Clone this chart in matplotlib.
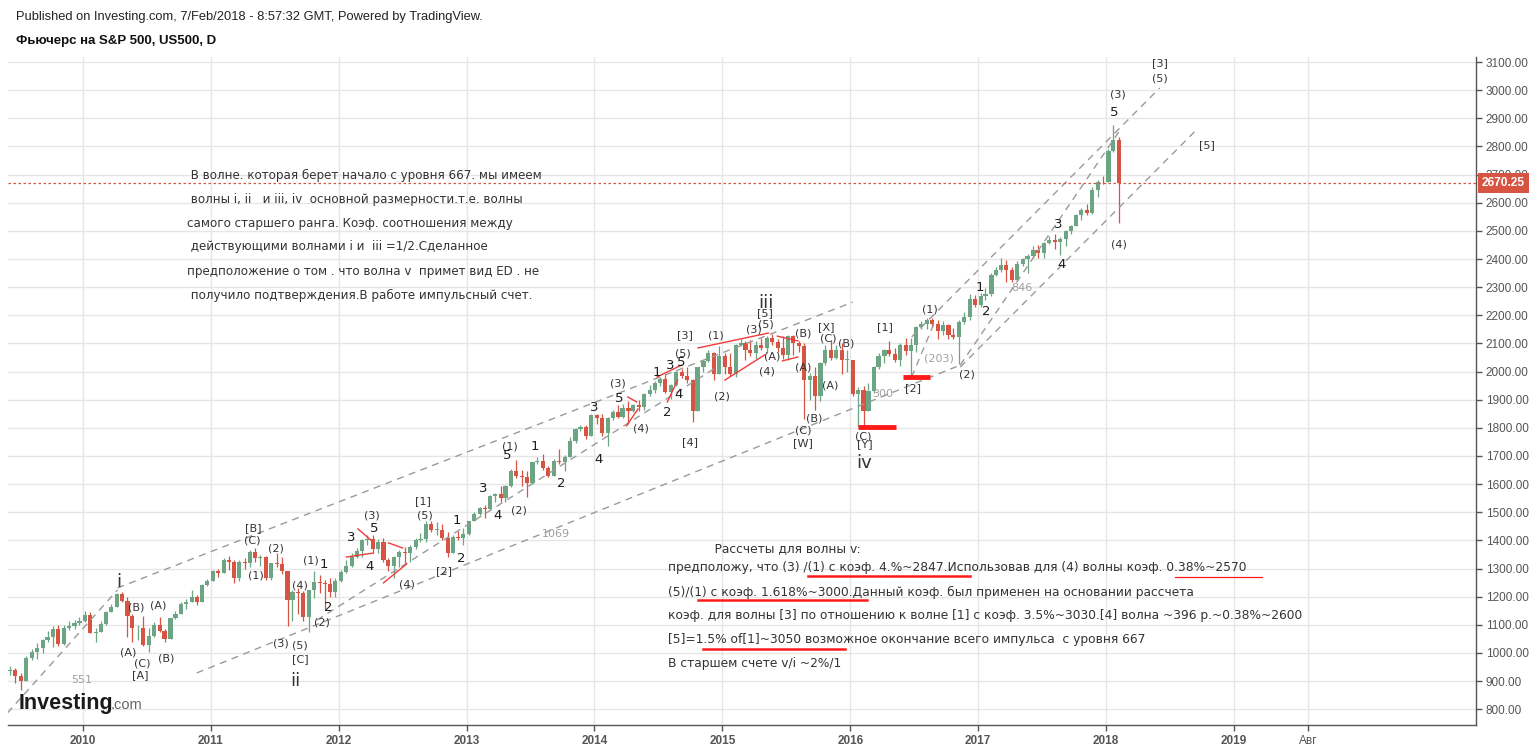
import matplotlib
matplotlib.use('Agg')
import matplotlib.pyplot as plt
import matplotlib.transforms as mtransforms
from matplotlib.lines import Line2D
import pandas as pd

W, H = 1533, 749
UP, DOWN = '#6ba583', '#d75442'

# half-month candles, the first one starts on 2009-06-01
first_open = 935
closes = [
    # 2009 Jun..Dec
    940, 918, 900, 982, 1002, 1018, 1045, 1055, 1085, 1032, 1090, 1095, 1105, 1112,
    # 2010
    1135, 1072, 1075, 1102, 1147, 1165, 1210, 1185, 1132, 1087, 1090, 1028,
    1062, 1100, 1078, 1048, 1123, 1140, 1175, 1182, 1198, 1180, 1240, 1255,
    # 2011
    1291, 1284, 1332, 1325, 1268, 1322, 1318, 1360, 1336, 1342, 1265, 1318,
    1315, 1290, 1190, 1215, 1214, 1128, 1222, 1252, 1250, 1245, 1218, 1255,
    # 2012
    1288, 1310, 1342, 1363, 1400, 1405, 1368, 1395, 1330, 1308, 1340, 1360,
    1355, 1377, 1403, 1404, 1460, 1438, 1438, 1410, 1355, 1412, 1410, 1424,
    # 2013
    1468, 1495, 1515, 1512, 1558, 1565, 1550, 1595, 1648, 1628, 1624, 1604,
    1678, 1683, 1658, 1630, 1683, 1678, 1698, 1752, 1796, 1804, 1772, 1845,
    # 2014
    1836, 1780, 1835, 1856, 1838, 1870, 1860, 1880, 1875, 1920, 1935, 1958,
    1975, 1928, 1952, 2000, 1983, 1970, 1860, 2015, 2038, 2065, 1990, 2055,
    # 2015
    2015, 1992, 2095, 2102, 2078, 2065, 2095, 2083, 2120, 2105, 2085, 2060,
    2125, 2100, 2090, 1970, 1985, 1915, 2030, 2075, 2048, 2078, 2040, 2040,
    # 2016
    1920, 1935, 1860, 1930, 2015, 2055, 2075, 2062, 2040, 2093, 2072, 2095,
    2158, 2170, 2182, 2170, 2145, 2165, 2130, 2122, 2175, 2195, 2258, 2236,
    # 2017
    2270, 2275, 2345, 2362, 2380, 2360, 2325, 2382, 2400, 2410, 2432, 2420,
    2457, 2468, 2462, 2470, 2498, 2518, 2555, 2573, 2563, 2645, 2675, 2672,
    # 2018 Jan..Feb
    2785, 2822, 2670.25,
]
highs = [
    955, 945, 930, 990, 1015, 1035, 1050, 1078, 1095, 1100, 1100, 1112, 1118, 1127,
    1150, 1145, 1090, 1112, 1150, 1175, 1214, 1217, 1200, 1140, 1100, 1130,
    1090, 1110, 1128, 1085, 1126, 1150, 1182, 1193, 1225, 1205, 1245, 1262,
    1294, 1300, 1336, 1345, 1330, 1330, 1338, 1366, 1372, 1348, 1345, 1320,
    1356, 1340, 1292, 1222, 1230, 1220, 1225, 1292, 1278, 1260, 1265, 1265,
    1295, 1330, 1355, 1372, 1405, 1418, 1420, 1405, 1410, 1338, 1345, 1365,
    1375, 1385, 1408, 1425, 1468, 1470, 1465, 1460, 1430, 1418, 1435, 1445,
    1470, 1500, 1520, 1525, 1560, 1570, 1595, 1598, 1655, 1685, 1650, 1645,
    1680, 1698, 1708, 1665, 1690, 1725, 1705, 1768, 1800, 1810, 1810, 1850,
    1848, 1850, 1838, 1865, 1880, 1885, 1895, 1885, 1900, 1925, 1952, 1965,
    1980, 1990, 1955, 2005, 2010, 2015, 1972, 2018, 2042, 2075, 2070, 2090,
    2065, 2065, 2098, 2115, 2110, 2112, 2110, 2120, 2125, 2135, 2115, 2125,
    2130, 2130, 2110, 2102, 1995, 2018, 2035, 2095, 2112, 2095, 2102, 2075,
    2040, 1945, 1950, 1960, 2020, 2065, 2080, 2108, 2085, 2100, 2118, 2118,
    2162, 2178, 2190, 2190, 2185, 2178, 2170, 2155, 2183, 2212, 2275, 2272,
    2280, 2298, 2350, 2370, 2402, 2395, 2370, 2392, 2405, 2418, 2448, 2450,
    2462, 2482, 2490, 2480, 2502, 2520, 2560, 2580, 2595, 2655, 2680, 2695,
    2790, 2878, 2835,
]
lows = [
    920, 895, 870, 900, 975, 980, 1000, 1040, 1020, 1025, 1030, 1080, 1085, 1098,
    1110, 1070, 1040, 1075, 1100, 1145, 1165, 1180, 1056, 1040, 1045, 1025,
    1003, 1055, 1075, 1040, 1050, 1120, 1140, 1158, 1185, 1172, 1185, 1238,
    1255, 1270, 1285, 1295, 1250, 1255, 1300, 1305, 1325, 1310, 1258, 1260,
    1305, 1282, 1095, 1115, 1140, 1115, 1075, 1195, 1212, 1155, 1200, 1200,
    1252, 1285, 1305, 1338, 1340, 1385, 1355, 1355, 1325, 1290, 1265, 1305,
    1320, 1325, 1370, 1395, 1395, 1430, 1420, 1402, 1340, 1355, 1400, 1385,
    1420, 1470, 1490, 1480, 1510, 1538, 1535, 1536, 1590, 1622, 1595, 1555,
    1600, 1672, 1650, 1625, 1628, 1670, 1645, 1695, 1745, 1790, 1762, 1772,
    1815, 1770, 1735, 1828, 1835, 1835, 1812, 1855, 1860, 1862, 1915, 1925,
    1950, 1925, 1902, 1950, 1978, 1960, 1820, 1860, 2000, 2035, 1970, 1990,
    1990, 1985, 1980, 2090, 2040, 2055, 2045, 2075, 2065, 2095, 2070, 2045,
    2040, 2060, 2070, 1831, 1900, 1865, 1895, 2025, 2040, 2045, 1990, 2000,
    1915, 1804, 1808, 1860, 1925, 2010, 2030, 2055, 2035, 2020, 2060, 1985,
    2070, 2150, 2150, 2158, 2115, 2130, 2115, 2115, 2028, 2170, 2185, 2230,
    2230, 2255, 2270, 2340, 2355, 2320, 2320, 2322, 2375, 2350, 2405, 2405,
    2405, 2455, 2435, 2415, 2445, 2488, 2518, 2540, 2555, 2560, 2620, 2665,
    2680, 2780, 2529,
]
last_price = 2670.25

year_ticks = list(range(2010, 2020))
aug_tick = 2019.581

# wave labels: (text, decimal year, price)
small_labels = [
    ('(B)', 2010.42, 1163), ('(A)', 2010.59, 1167), ('(A)', 2010.35, 1000),
    ('(C)', 2010.46, 961), ('[A]', 2010.45, 922), ('(B)', 2010.65, 979),
    ('[B]', 2011.33, 1444), ('(C)', 2011.32, 1398), ('(2)', 2011.51, 1373),
    ('(1)', 2011.35, 1277), ('(1)', 2011.78, 1330), ('(4)', 2011.70, 1238),
    ('(2)', 2011.87, 1107), ('(3)', 2011.55, 1035), ('(5)', 2011.70, 1025),
    ('[C]', 2011.70, 979), ('(3)', 2012.26, 1490), ('(4)', 2012.53, 1245),
    ('[1]', 2012.66, 1540), ('(5)', 2012.67, 1490), ('[2]', 2012.82, 1291),
    ('(2)', 2013.41, 1505), ('(1)', 2013.34, 1735), ('(3)', 2014.18, 1956),
    ('(4)', 2014.36, 1796), ('[4]', 2014.75, 1750), ('(5)', 2014.69, 2066),
    ('[3]', 2014.71, 2130), ('(1)', 2014.95, 2130), ('(2)', 2015.00, 1913),
    ('(3)', 2015.25, 2148), ('(5)', 2015.34, 2166), ('[5]', 2015.33, 2208),
    ('(A)', 2015.39, 2055), ('(4)', 2015.35, 2002), ('(B)', 2015.63, 2137),
    ('(A)', 2015.63, 2013), ('(B)', 2015.72, 1835), ('(C)', 2015.63, 1792),
    ('[W]', 2015.63, 1746), ('[X]', 2015.81, 2158), ('(C)', 2015.83, 2116),
    ('(B)', 2015.97, 2101), ('(A)', 2015.84, 1952), ('(C)', 2016.10, 1771),
    ('[Y]', 2016.11, 1743), ('[1]', 2016.27, 2158), ('(1)', 2016.62, 2219),
    ('[2]', 2016.49, 1942), ('(2)', 2016.91, 1988), ('(4)', 2018.10, 2453),
    ('(3)', 2018.09, 2986), ('(5)', 2018.42, 3043), ('[3]', 2018.42, 3096),
    ('[5]', 2018.79, 2805),
]
digit_labels = [
    ('1', 2011.88, 1313), ('2', 2011.92, 1160), ('3', 2012.10, 1412),
    ('5', 2012.28, 1441), ('4', 2012.24, 1306), ('1', 2012.92, 1469),
    ('2', 2012.96, 1334), ('3', 2013.13, 1583), ('4', 2013.24, 1490),
    ('5', 2013.32, 1700), ('1', 2013.53, 1732), ('2', 2013.74, 1604),
    ('3', 2014.00, 1871), ('4', 2014.03, 1689), ('5', 2014.19, 1906),
    ('1', 2014.49, 1998), ('3', 2014.59, 2023), ('5', 2014.68, 2034),
    ('2', 2014.57, 1853), ('4', 2014.66, 1920), ('1', 2017.01, 2300),
    ('2', 2017.06, 2215), ('3', 2017.63, 2524), ('4', 2017.65, 2382),
    ('5', 2018.06, 2919),
]
roman_labels = [
    ('i', 2010.28, 1252), ('ii', 2011.66, 900), ('iii', 2015.34, 2244),
    ('iv', 2016.11, 1675),
]
gray_labels = [
    ('551', 2009.99, 904), ('1069', 2013.70, 1423), ('300', 2016.25, 1920),
    ('(203)', 2016.69, 2048), ('846', 2017.34, 2297),
]

# dashed trend lines: (year0, price0, year1, price1)
channel_lines = [
    (2009.41, 787, 2010.27, 1224),
    (2010.27, 1231, 2016.02, 2247),
    (2010.89, 929, 2016.86, 2023),
    (2011.83, 1117, 2014.97, 2020),
    (2016.48, 2123, 2018.42, 3008),
    (2016.86, 2023, 2018.12, 2865),
    (2016.86, 2016, 2018.72, 2865),
    (2016.48, 1981, 2016.66, 2176),
]
red_lines = [
    (2012.15, 1441, 2012.25, 1402), (2012.06, 1341, 2012.27, 1355),
    (2012.39, 1391, 2012.50, 1373), (2012.35, 1249, 2012.53, 1316),
    (2014.26, 1910, 2014.33, 1892), (2014.25, 1807, 2014.34, 1867),
    (2014.49, 1981, 2014.68, 2023), (2014.57, 1892, 2014.65, 1970),
    (2014.81, 2084, 2015.36, 2137), (2015.02, 1970, 2015.33, 2059),
    (2015.43, 2126, 2015.59, 2109), (2015.47, 2038, 2015.59, 2052),
]
red_bars = [(2016.06, 2016.36, 1803), (2016.41, 2016.62, 1981)]

note_top = [
    ' В волне. которая берет начало с уровня 667. мы имеем',
    ' волны i, ii   и iii, iv  основной размерности.т.е. волны',
    'самого старшего ранга. Коэф. соотношения между',
    ' действующими волнами i и  iii =1/2.Сделанное',
    'предположение о том . что волна v  примет вид ED . не',
    ' получило подтверждения.В работе импульсный счет.',
]
note_bottom = [
    '            Рассчеты для волны v:',
    'предположу, что (3) /(1) с коэф. 4.%~2847.Использовав для (4) волны коэф. 0.38%~2570',
    '(5)/(1) с коэф. 1.618%~3000.Данный коэф. был применен на основании рассчета',
    'коэф. для волны [3] по отношению к волне [1] с коэф. 3.5%~3030.[4] волна ~396 р.~0.38%~2600',
    '[5]=1.5% of[1]~3050 возможное окончание всего импульса  с уровня 667',
    'В старшем счете v/i ~2%/1',
]
note_bottom_y = [549, 568, 592, 616, 640, 663]


def dec_year(ts):
    days = 366 if ts.is_leap_year else 365
    return ts.year + (ts.dayofyear - 1) / days


starts = pd.date_range('2009-06-01', periods=len(closes), freq='SMS')
xs = [dec_year(t + pd.Timedelta(days=7)) for t in starts]
opens = [first_open] + closes[:-1]

fig = plt.figure(figsize=(W / 100, H / 100), dpi=100)
ax = fig.add_axes([8 / W, 1 - 725 / H, (1476 - 8) / W, (725 - 57) / H])
ax.set_xlim(2009.414, 2020.893)
ax.set_ylim(744, 3118)

# candles
step = 1 / 24
for x, o, h, l, c in zip(xs, opens, highs, lows, closes):
    col = UP if c >= o else DOWN
    ax.vlines(x, min(l, o, c), max(h, o, c), color=col, lw=0.9, zorder=3)
    ax.bar(x, max(abs(c - o), 3), bottom=min(o, c), width=step * 0.78,
           color=col, lw=0, zorder=3)

for x0, p0, x1, p1 in channel_lines:
    ax.plot([x0, x1], [p0, p1], color='#9a9a9a', lw=1, ls=(0, (5, 4)), zorder=4)
for x0, p0, x1, p1 in red_lines:
    ax.plot([x0, x1], [p0, p1], color='#f23a3a', lw=1, zorder=4)
for x0, x1, p in red_bars:
    ax.plot([x0, x1], [p, p], color='#ff1a1a', lw=3.5, solid_capstyle='butt', zorder=4)

for t, x, p in small_labels:
    ax.text(x, p, t, fontsize=8, color='#333333', ha='center', va='center',
            family='DejaVu Sans', zorder=5)
for t, x, p in digit_labels:
    ax.text(x, p, t, fontsize=9.5, color='#1e1e1e', ha='center', va='center',
            family='DejaVu Sans', zorder=5)
for t, x, p in roman_labels:
    ax.text(x, p, t, fontsize=13, color='#333333', ha='center', va='center',
            family='DejaVu Sans', zorder=5)
for t, x, p in gray_labels:
    ax.text(x, p, t, fontsize=8, color='#a0a0a0', ha='center', va='center',
            family='DejaVu Sans', zorder=5)

# last price
ax.axhline(last_price, color=DOWN, lw=0.9, ls=(0, (2, 2)), zorder=4)
trans = mtransforms.blended_transform_factory(ax.transAxes, ax.transData)
ax.text(1.004, last_price, f'{last_price:.2f}', transform=trans, ha='left',
        va='center', color='white', fontsize=8.6, fontweight='bold',
        family='Liberation Sans',
        bbox=dict(boxstyle='square,pad=0.32', fc=DOWN, ec='none'), zorder=6)

# axes styling
ax.yaxis.tick_right()
yt = list(range(800, 3101, 100))
ax.set_yticks(yt)
ax.set_yticklabels([f'{v:.2f}' for v in yt], family='Liberation Sans',
                   fontsize=8.5, color='#555555')
ax.set_xticks(year_ticks + [aug_tick])
ax.set_xticklabels([str(y) for y in year_ticks] + ['Авг'],
                   family='Liberation Sans', fontsize=8.5, color='#555555')
for lab in ax.get_xticklabels()[:-1]:
    lab.set_fontweight('bold')
ax.tick_params(axis='both', colors='#555555', length=4, width=1, pad=3)
ax.grid(True, color='#e6e6e6', lw=1)
ax.set_axisbelow(True)
for s in ('top', 'left'):
    ax.spines[s].set_visible(False)
for s in ('right', 'bottom'):
    ax.spines[s].set_color('#555555')
    ax.spines[s].set_linewidth(1)

# header
fig.text(16 / W, 1 - 17 / H, 'Published on Investing.com, 7/Feb/2018 - 8:57:32 GMT, Powered by TradingView.',
         family='Liberation Sans', fontsize=9.3, color='#222222', va='center')
fig.text(16 / W, 1 - 41 / H, 'Фьючерс на S&P 500, US500, D', family='Liberation Sans',
         fontsize=9.5, fontweight='bold', color='#111111', va='center')

# notes
for i, line in enumerate(note_top):
    fig.text(187 / W, 1 - (175 + 24 * i) / H, line, family='DejaVu Sans',
             fontsize=8.55, color='#333333', va='center')
for line, y in zip(note_bottom, note_bottom_y):
    fig.text(668 / W, 1 - y / H, line, family='DejaVu Sans',
             fontsize=8.8, color='#333333', va='center')
for x0, x1, y, lw in [(808, 970, 576, 1.8), (1175, 1262, 577, 0.9),
                      (698, 867, 600, 1.8), (703, 845, 649, 1.8)]:
    fig.add_artist(Line2D([x0 / W, x1 / W], [1 - y / H, 1 - y / H],
                          color='#ff1a1a', lw=lw, transform=fig.transFigure))

# watermark
fig.text(19 / W, 1 - 703 / H, 'Investing', family='Liberation Sans', fontsize=15.5,
         fontweight='bold', color='#1a1a1a', va='center')
fig.text(111 / W, 1 - 705 / H, '.com', family='Liberation Sans', fontsize=10.5,
         color='#666666', va='center')

fig.savefig('out.png', dpi=100)
